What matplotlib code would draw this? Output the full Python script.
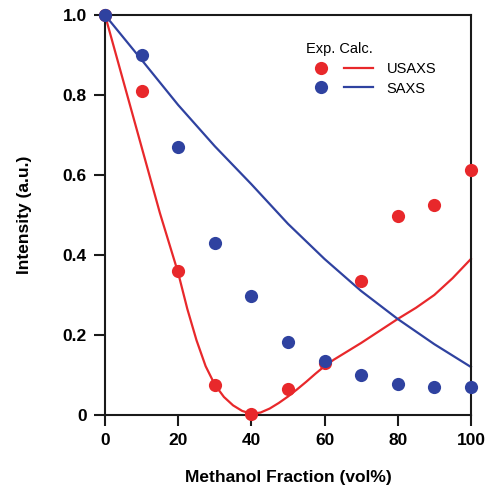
import numpy as np
import matplotlib
matplotlib.use('Agg')
import matplotlib.pyplot as plt
from matplotlib.legend_handler import HandlerTuple

plt.rcParams['font.family'] = ['Liberation Sans', 'DejaVu Sans']

# Experimental points
frac_exp = [0, 10, 20, 30, 40, 50, 60, 70, 80, 90, 100]
usaxs_exp = [1.0, 0.81, 0.36, 0.075, 0.003, 0.065, 0.13, 0.335, 0.497, 0.524, 0.612]
saxs_exp = [1.0, 0.90, 0.67, 0.43, 0.297, 0.183, 0.135, 0.10, 0.078, 0.07, 0.07]

# Calculated curves
frac_usaxs_calc = [0, 5, 10, 15, 17.5, 20, 22.5, 25, 27.5, 30, 32.5, 35, 37.5, 40, 42.5,
                   45, 47.5, 50, 52.5, 55, 57.5, 60, 62.5, 65, 67.5, 70, 72.5, 75,
                   80, 85, 90, 95, 100]
usaxs_calc = [1.0, 0.835, 0.67, 0.505, 0.43, 0.355, 0.265, 0.187, 0.122, 0.076, 0.045,
              0.024, 0.01, 0.003, 0.006, 0.016, 0.03, 0.046, 0.064, 0.083, 0.103, 0.122,
              0.138, 0.152, 0.166, 0.18, 0.195, 0.21, 0.24, 0.268, 0.30, 0.342, 0.39]
frac_saxs_calc = [0, 10, 20, 30, 40, 50, 60, 70, 80, 90, 100]
saxs_calc = [1.0, 0.888, 0.775, 0.672, 0.577, 0.478, 0.39, 0.31, 0.24, 0.177, 0.12]

red = '#e8282b'
blue = '#2f42a0'

fig = plt.figure(figsize=(4.9, 4.94), dpi=100)
ax = fig.add_axes([0.2143, 0.16, 0.7467, 0.8096])

l_red, = ax.plot(frac_usaxs_calc, usaxs_calc, color=red, lw=1.6, zorder=2, clip_on=False)
l_blue, = ax.plot(frac_saxs_calc, saxs_calc, color=blue, lw=1.6, zorder=2, clip_on=False)
d_red, = ax.plot(frac_exp, usaxs_exp, 'o', color=red, ms=9.5, mec='none', zorder=3, clip_on=False)
d_blue, = ax.plot(frac_exp, saxs_exp, 'o', color=blue, ms=9.5, mec='none', zorder=4, clip_on=False)

ax.set_xlim(0, 100)
ax.set_ylim(0, 1.0)
ax.set_xticks([0, 20, 40, 60, 80, 100])
ax.set_yticks([0, 0.2, 0.4, 0.6, 0.8, 1.0])
ax.set_yticklabels(['0', '0.2', '0.4', '0.6', '0.8', '1.0'])
for lab in ax.get_xticklabels() + ax.get_yticklabels():
    lab.set_fontweight('bold')
ax.tick_params(direction='out', length=8, width=1.5, labelsize=12.5, pad=5, color='#1a1a1a')
for sp in ax.spines.values():
    sp.set_linewidth(1.5)
    sp.set_color('#1a1a1a')

ax.set_xlabel('Methanol Fraction (vol%)', fontsize=12.5, fontweight='bold', labelpad=16)
ax.set_ylabel('Intensity (a.u.)', fontsize=12.5, fontweight='bold', labelpad=22)

leg = ax.legend([(d_red, l_red), (d_blue, l_blue)], ['USAXS', 'SAXS'],
                handler_map={tuple: HandlerTuple(ndivide=None, pad=0.6)},
                title='Exp. Calc.', title_fontsize=10.5, fontsize=10.5,
                frameon=False, loc='upper left', bbox_to_anchor=(0.61, 0.93),
                bbox_transform=fig.transFigure, borderpad=0, handlelength=4.6,
                handletextpad=0.9, labelspacing=0.4, alignment='left')

fig.savefig('out.png', dpi=100, facecolor='white')
